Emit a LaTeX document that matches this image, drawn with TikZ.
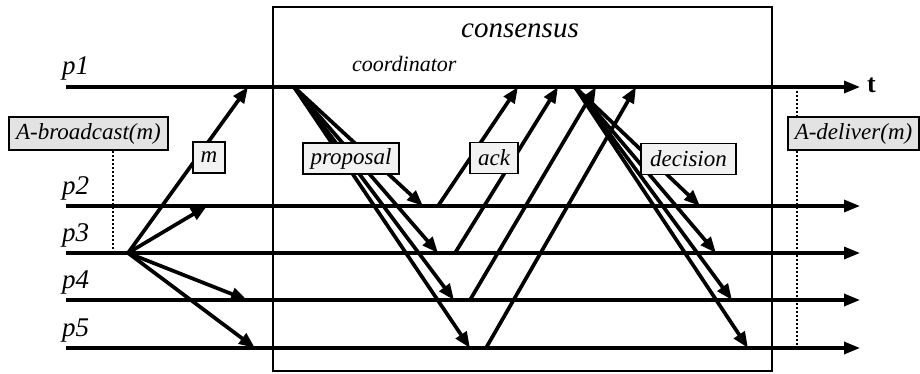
\documentclass[tikz,border=0pt]{standalone}
\usepackage{fontspec}
\setmainfont{Liberation Serif}
\usetikzlibrary{arrows.meta}
\begin{document}
\begin{tikzpicture}[x=1pt,y=-1pt,
  pline/.style={line width=3.2pt,-{Triangle[length=16pt,width=12pt]}},
  msg/.style={line width=3.7pt,-{Triangle[length=16pt,width=12.5pt]}},
  dots/.style={line width=1.1pt,dash pattern=on 2pt off 2pt},
  lab/.style={draw,line width=1.2pt,fill=gray!10,font=\fontsize{23}{25}\selectfont\itshape,inner sep=0pt,minimum height=31pt},
  biglab/.style={lab,fill=gray!22,minimum height=33pt},
  plab/.style={font=\fontsize{27}{29}\selectfont\itshape,anchor=base west,inner sep=0pt}]
\useasboundingbox (0,0) rectangle (920,374);
% process lines
\foreach \i/\y in {1/87,2/206,3/253,4/300,5/348}{
  \coordinate (s\i) at (66,\y);
  \coordinate (e\i) at (860,\y);
}
\draw[pline] (s1) -- (e1);
\draw[pline] (s2) -- (e2);
\draw[pline] (s3) -- (e3);
\draw[pline] (s4) -- (e4);
\draw[pline] (s5) -- (e5);
% labels of processes
\node[plab] (lp1) at (62,75) {p1};
\node[plab] (lp2) at (62,194) {p2};
\node[plab] (lp3) at (62,241) {p3};
\node[plab] (lp4) at (62,288) {p4};
\node[plab] (lp5) at (62,336) {p5};
\node[font=\fontsize{26}{28}\selectfont\bfseries,anchor=base west,inner sep=0pt] (t) at (867,93) {t};
% consensus box
\node[draw,line width=1.2pt,minimum width=499pt,minimum height=364pt,inner sep=0pt] (cons) at (522.5,189) {};
\node[font=\fontsize{29}{31}\selectfont\itshape,anchor=base,inner sep=0pt] (constxt) at (520,38) {consensus};
\node[font=\fontsize{22}{24}\selectfont\itshape,anchor=base west,inner sep=0pt] (coord) at (352,72) {coordinator};
% dotted lines
\coordinate (bd) at (113,250);
\coordinate (dd1) at (797,87);
\coordinate (dd2) at (797,348);
% broadcast
\coordinate (B) at (128,253);
\coordinate (b1) at (248,87);
\coordinate (b2) at (207,206);
\coordinate (b4) at (247,300);
\coordinate (b5) at (255,348);
% proposal
\coordinate (C) at (294,87);
\coordinate (c2) at (423,206);
\coordinate (c3) at (438,253);
\coordinate (c4) at (454,300);
\coordinate (c5) at (470,348);
% ack
\coordinate (a2) at (438,206);
\coordinate (a3) at (455,253);
\coordinate (a4) at (470,300);
\coordinate (a5) at (486,348);
\coordinate (k2) at (518,87);
\coordinate (k3) at (558,87);
\coordinate (k4) at (596,87);
\coordinate (k5) at (636,87);
% decision
\coordinate (D) at (575,87);
\coordinate (d2) at (700,206);
\coordinate (d3) at (716,253);
\coordinate (d4) at (732,300);
\coordinate (d5) at (748,348);
\draw[dots] (dd1) -- (dd2);
\foreach \t in {b1,b2,b4,b5} \draw[msg] (B) -- (\t);
\foreach \t in {c2,c3,c4,c5} \draw[msg] (C) -- (\t);
\draw[msg] (a2) -- (k2);
\draw[msg] (a3) -- (k3);
\draw[msg] (a4) -- (k4);
\draw[msg] (a5) -- (k5);
\foreach \t in {d2,d3,d4,d5} \draw[msg] (D) -- (\t);
% boxes
\node[biglab,minimum width=159pt] (bcast) at (88.5,133.5) {A-broadcast(m)};
\draw[dots] (bd |- bcast.south) -- (bd);
\node[biglab,minimum width=131pt] (deliv) at (853.5,133.5) {A-deliver(m)};
\node[lab,minimum width=32pt] (m) at (209,157.5) {m};
\node[lab,minimum width=96pt] (prop) at (351,158.5) {proposal};
\node[lab,minimum width=48pt] (ack) at (494,158) {ack};
\node[lab,minimum width=95pt] (dec) at (688.5,159) {decision};
\end{tikzpicture}
\end{document}
